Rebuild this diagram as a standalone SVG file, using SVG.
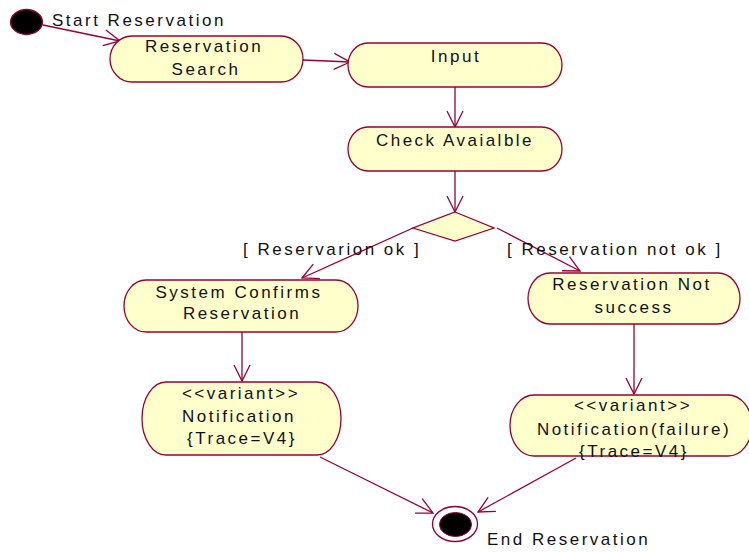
<svg xmlns="http://www.w3.org/2000/svg" width="749" height="552" viewBox="0 0 749 552">
  <defs>
    <style>
      .act { fill: #FFFFCC; stroke: #990033; stroke-width: 1.3; }
      .lbl { font-family: "Liberation Sans", Arial, sans-serif; font-size: 17px; letter-spacing: 2.5px; fill: #111; }
      .mid { text-anchor: middle; }
      .flow { fill: none; stroke: #990033; stroke-width: 1.3; }
    </style>
    <marker id="open" viewBox="-18 -10 20 20" markerWidth="20" markerHeight="20" refX="0" refY="0" markerUnits="userSpaceOnUse" orient="auto">
      <path d="M-16,-8 L0,0 L-16,8" fill="none" stroke="#990033" stroke-width="1.3"/>
    </marker>
  </defs>
  <rect width="749" height="552" fill="#ffffff"/>

  <!-- transitions -->
  <g id="connectors" class="flow" marker-end="url(#open)">
    <line x1="43" y1="25" x2="120" y2="41"/>
    <line x1="303" y1="60" x2="350" y2="62"/>
    <line x1="455" y1="87" x2="455" y2="127"/>
    <line x1="455" y1="171" x2="455" y2="212"/>
    <line x1="413" y1="228" x2="302" y2="278"/>
    <line x1="497" y1="228" x2="580" y2="271"/>
    <line x1="242" y1="332" x2="242" y2="381"/>
    <line x1="634" y1="324" x2="634" y2="394"/>
    <line x1="320" y1="457" x2="433" y2="513"/>
    <line x1="576" y1="458" x2="478" y2="512"/>
  </g>

  <!-- initial state -->
  <g id="start">
    <ellipse cx="26.5" cy="22" rx="16" ry="12.5" fill="#000" stroke="#990033" stroke-width="1.3"/>
    <text class="lbl" x="52" y="26">Start Reservation</text>
  </g>

  <g id="reservation-search">
    <rect class="act" x="110" y="36" width="193" height="46" rx="22" ry="23"/>
    <text class="lbl mid" x="204" y="52">Reservation</text>
    <text class="lbl mid" x="206" y="75">Search</text>
  </g>

  <g id="input">
    <rect class="act" x="348" y="43" width="214" height="44" rx="20" ry="22"/>
    <text class="lbl mid" x="456" y="62">Input</text>
  </g>

  <g id="check-available">
    <rect class="act" x="348" y="127" width="214" height="44" rx="20" ry="22"/>
    <text class="lbl mid" x="455" y="146">Check Avaialble</text>
  </g>

  <!-- decision -->
  <g id="decision">
    <polygon class="act" points="455,212 494,228 455,241 413,228"/>
    <text class="lbl" x="243" y="255">[ Reservarion ok ]</text>
    <text class="lbl" x="507" y="255">[ Reservation not ok ]</text>
  </g>

  <g id="system-confirms">
    <rect class="act" x="124" y="280" width="234" height="52" rx="22" ry="26"/>
    <text class="lbl mid" x="239" y="298">System Confirms</text>
    <text class="lbl mid" x="242" y="319">Reservation</text>
  </g>

  <g id="not-success">
    <rect class="act" x="528" y="273" width="212" height="51" rx="22" ry="25.5"/>
    <text class="lbl mid" x="632" y="290">Reservation Not</text>
    <text class="lbl mid" x="634" y="313">success</text>
  </g>

  <g id="notification">
    <rect class="act" x="142" y="382" width="199" height="73" rx="24" ry="36.5"/>
    <text class="lbl mid" x="241" y="399">&lt;&lt;variant&gt;&gt;</text>
    <text class="lbl mid" x="239" y="422">Notification</text>
    <text class="lbl mid" x="242" y="444">{Trace=V4}</text>
  </g>

  <g id="notification-failure">
    <rect class="act" x="510" y="395" width="242" height="61" rx="24" ry="30.5"/>
    <text class="lbl mid" x="633" y="411">&lt;&lt;variant&gt;&gt;</text>
    <text class="lbl mid" x="634" y="435">Notification(failure)</text>
    <text class="lbl mid" x="634" y="457">{Trace=V4}</text>
  </g>

  <!-- final state -->
  <g id="end">
    <ellipse cx="455" cy="524" rx="22.5" ry="17.5" fill="#fff" stroke="#990033" stroke-width="1.3"/>
    <ellipse cx="455.5" cy="524.5" rx="16" ry="12" fill="#000" stroke="#990033" stroke-width="1"/>
    <text class="lbl" x="487" y="545">End Reservation</text>
  </g>
</svg>
